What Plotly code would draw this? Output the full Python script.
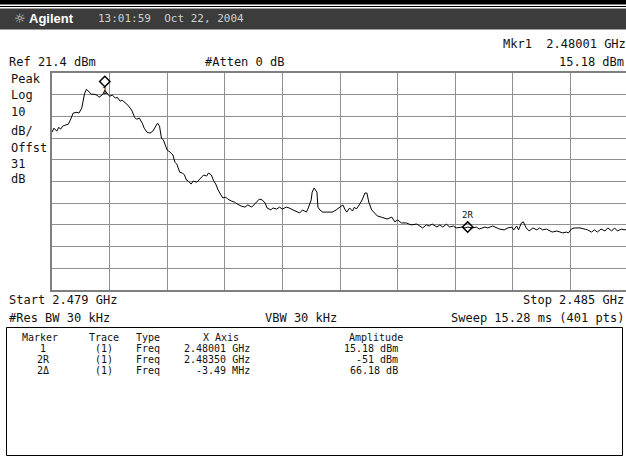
import plotly.graph_objects as go

# ---------------- data ----------------
freq_ghz = [
    2.47900, 2.47902, 2.47905, 2.47907, 2.47909, 2.47911, 2.47914, 2.47917, 2.47920, 2.47922,
    2.47926, 2.47928, 2.47931, 2.47932, 2.47934, 2.47936, 2.47938, 2.47941, 2.47944, 2.47947,
    2.47949, 2.47953, 2.47955, 2.47957, 2.47960, 2.47963, 2.47966, 2.47968, 2.47971, 2.47973,
    2.47977, 2.47979, 2.47983, 2.47986, 2.47988, 2.47991, 2.47994, 2.47996, 2.47999, 2.48002,
    2.48005, 2.48008, 2.48010, 2.48012, 2.48014, 2.48016, 2.48018, 2.48020, 2.48023, 2.48026,
    2.48028, 2.48030, 2.48033, 2.48036, 2.48038, 2.48040, 2.48042, 2.48045, 2.48047, 2.48051,
    2.48053, 2.48056, 2.48058, 2.48061, 2.48063, 2.48066, 2.48068, 2.48071, 2.48073, 2.48076,
    2.48078, 2.48081, 2.48083, 2.48087, 2.48090, 2.48093, 2.48097, 2.48101, 2.48104, 2.48108,
    2.48110, 2.48113, 2.48116, 2.48119, 2.48122, 2.48124, 2.48128, 2.48130, 2.48134, 2.48137,
    2.48140, 2.48144, 2.48147, 2.48151, 2.48155, 2.48158, 2.48161, 2.48165, 2.48167, 2.48170,
    2.48171, 2.48173, 2.48176, 2.48177, 2.48179, 2.48182, 2.48186, 2.48189, 2.48192, 2.48196,
    2.48199, 2.48203, 2.48205, 2.48207, 2.48210, 2.48213, 2.48215, 2.48217, 2.48220, 2.48223,
    2.48226, 2.48228, 2.48230, 2.48233, 2.48236, 2.48239, 2.48243, 2.48246, 2.48249, 2.48254,
    2.48257, 2.48260, 2.48264, 2.48269, 2.48274, 2.48280, 2.48283, 2.48286, 2.48290, 2.48293,
    2.48296, 2.48301, 2.48304, 2.48307, 2.48311, 2.48314, 2.48318, 2.48321, 2.48327, 2.48330,
    2.48333, 2.48338, 2.48342, 2.48345, 2.48351, 2.48354, 2.48359, 2.48363, 2.48366, 2.48371,
    2.48375, 2.48379, 2.48381, 2.48384, 2.48386, 2.48389, 2.48391, 2.48394, 2.48397, 2.48401,
    2.48405, 2.48408, 2.48411, 2.48415, 2.48418, 2.48421, 2.48426, 2.48429, 2.48432, 2.48436,
    2.48438, 2.48441, 2.48444, 2.48450, 2.48455, 2.48458, 2.48462, 2.48465, 2.48468, 2.48472,
    2.48476, 2.48479, 2.48483, 2.48486, 2.48489, 2.48493, 2.48496, 2.48500,
]
amp_dbm = [
    -5.9, -4.0, -5.4, -3.6, -4.5, -3.1, -2.6, -2.2, 0.6, 2.9,
    3.3, 2.9, 5.2, 7.9, 12.1, 13.9, 13.0, 11.6, 11.6, 11.2,
    10.2, 11.6, 13.4, 12.1, 10.7, 11.2, 9.8, 10.2, 8.4, 8.9,
    7.5, 6.6, 4.3, 1.0, 0.1, 0.6, -1.7, -4.0, -5.9, -6.3,
    -5.4, -3.1, -1.7, -3.1, -8.6, -9.5, -11.8, -14.1, -15.1, -16.4,
    -19.7, -20.6, -24.3, -24.7, -25.6, -27.9, -28.4, -29.8, -28.4, -28.9,
    -27.9, -26.6, -25.6, -26.1, -24.7, -25.6, -27.9, -30.2, -32.5, -34.8,
    -36.2, -35.8, -36.7, -37.6, -38.1, -39.0, -39.9, -40.4, -39.4, -40.4,
    -39.4, -38.1, -36.7, -37.1, -38.5, -40.8, -41.7, -40.8, -41.3, -40.4,
    -41.3, -40.4, -40.8, -41.7, -42.7, -43.1, -41.7, -42.7, -40.8, -37.1,
    -33.5, -31.6, -33.5, -40.4, -41.7, -42.7, -42.7, -42.7, -42.7, -41.7,
    -40.8, -39.4, -41.3, -42.7, -40.8, -42.2, -40.4, -41.3, -39.4, -37.1,
    -33.9, -33.9, -38.1, -41.7, -43.1, -44.5, -45.0, -45.4, -45.9, -45.0,
    -47.2, -46.3, -47.7, -47.7, -48.6, -48.2, -49.1, -50.0, -48.6, -49.1,
    -48.2, -49.6, -48.6, -49.6, -48.2, -49.6, -49.1, -50.0, -49.6, -50.0,
    -49.6, -50.0, -49.6, -50.5, -49.6, -50.0, -49.1, -50.0, -50.5, -50.9,
    -50.0, -49.6, -50.9, -49.1, -50.9, -47.7, -47.2, -50.0, -51.4, -50.0,
    -50.9, -50.0, -50.9, -50.5, -51.4, -51.9, -51.4, -51.9, -52.3, -51.9,
    -52.3, -50.5, -50.0, -50.0, -50.5, -50.9, -51.9, -50.9, -51.9, -50.5,
    -51.4, -50.0, -51.4, -50.0, -51.4, -50.5, -50.9, -50.5,
]

ref_level_dbm = 21.4
db_per_div = 10
start_ghz = 2.479
stop_ghz = 2.485

mk1_freq, mk1_amp = 2.47955, 17.5
mk2_freq, mk2_amp = 2.48333, -49.6

tbl_headers = ["Marker", "Trace", "Type", "X Axis", "Amplitude"]
tbl_marker = ["1", "2R", "2\u0394"]
tbl_trace = ["(1)", "(1)", "(1)"]
tbl_type = ["Freq", "Freq", "Freq"]
tbl_xaxis = ["2.48001 GHz", "2.48350 GHz", "-3.49 MHz"]
tbl_amp = ["15.18 dBm", "-51 dBm", "66.18 dB"]

# ---------------- layout helpers (pixel -> paper) ----------------
W, H = 626, 468
L, R, T, B = 52, 0, 73, 178
PW, PH = W - L - R, H - T - B


def px(x):
    return (x - L) / PW


def py(y):
    return (H - B - y) / PH


MONO = "DejaVu Sans Mono"
TXT = "#111111"

fig = go.Figure()
fig.add_trace(go.Scatter(x=freq_ghz, y=amp_dbm, mode="lines",
                         line=dict(color="#000000", width=1), hoverinfo="skip"))
fig.add_trace(go.Scatter(x=[mk1_freq, mk2_freq], y=[mk1_amp, mk2_amp], mode="markers",
                         marker=dict(symbol="diamond-open", size=8, color="#000000",
                                     line=dict(color="#000000", width=1.5)),
                         hoverinfo="skip"))

div_ghz = (stop_ghz - start_ghz) / 10
x_end = start_ghz + div_ghz * PW / 57.6

annotations = []


def txt(x, y, s, size=12, anchor="left", color=TXT, family=MONO, bold=False):
    if bold:
        s = "<b>" + s + "</b>"
    annotations.append(dict(x=px(x), y=py(y), xref="paper", yref="paper", text=s,
                            showarrow=False, xanchor=anchor, yanchor="middle",
                            font=dict(family=family, size=size, color=color)))


# header bar text
txt(12, 18.5, "\u263c", size=13, color="#d8d8d8", family="DejaVu Sans")
txt(27, 18.5, "Agilent", size=13, color="#ffffff", family="Liberation Sans", bold=True)
txt(96, 18.5, "13:01:59  Oct 22, 2004", size=11, color="#d0d0d0")

# top info
txt(7, 62, "Ref 21.4 dBm")
txt(203, 62, "#Atten 0 dB")
txt(628, 44, "Mkr1  2.48001 GHz", anchor="right")
txt(626, 62, "15.18 dBm", anchor="right")

# left labels
for s, y in zip(["Peak", "Log", "10", "dB/", "Offst", "31", "dB"],
                [79, 95, 112, 131, 148, 164, 179]):
    txt(9, y, s)

# bottom info
txt(7, 300, "Start 2.479 GHz")
txt(626, 300, "Stop 2.485 GHz", anchor="right")
txt(7, 318, "#Res BW 30 kHz")
txt(301, 318, "VBW 30 kHz", anchor="center")
txt(626, 318, "Sweep 15.28 ms (401 pts)", anchor="right")

# marker table
hdr_x = [40, 104, 134, 221, 376]
hdr_anchor = ["center", "center", "left", "center", "center"]
for cx, a, h in zip(hdr_x, hdr_anchor, tbl_headers):
    txt(cx, 337, h, size=10, anchor=a)
val_x = [43, 104, 134, 252, 400]
val_anchor = ["center", "center", "left", "right", "right"]
rows_y = [348, 359, 370]
for i, y in enumerate(rows_y):
    vals = [tbl_marker[i], tbl_trace[i], tbl_type[i], tbl_xaxis[i], tbl_amp[i]]
    for cx, a, v in zip(val_x, val_anchor, vals):
        txt(cx, y, v, size=10, anchor=a)

# marker labels
annotations.append(dict(x=mk1_freq, y=mk1_amp, text="1", showarrow=False, yshift=-10,
                        font=dict(family=MONO, size=9, color=TXT)))
annotations.append(dict(x=mk2_freq, y=mk2_amp, text="2R", showarrow=False, yshift=12,
                        font=dict(family=MONO, size=9, color=TXT)))

shapes = [
    dict(type="rect", xref="paper", yref="paper", x0=px(0), x1=px(W), y0=py(0), y1=py(4.5),
         fillcolor="#000000", line=dict(width=0), layer="above"),
    dict(type="rect", xref="paper", yref="paper", x0=px(0), x1=px(W), y0=py(6), y1=py(7),
         fillcolor="#000000", line=dict(width=0), layer="above"),
    dict(type="rect", xref="paper", yref="paper", x0=px(0), x1=px(W), y0=py(8.5), y1=py(29.5),
         fillcolor="#3c3c3c", line=dict(width=0), layer="below"),
    dict(type="rect", xref="paper", yref="paper", x0=px(6.5), x1=px(622.5), y0=py(327.5), y1=py(455.5),
         fillcolor="rgba(0,0,0,0)", line=dict(color="#000000", width=1)),
]

fig.update_layout(
    width=W, height=H,
    margin=dict(l=L, r=R, t=T, b=B, pad=0),
    paper_bgcolor="#ffffff", plot_bgcolor="#ffffff",
    showlegend=False,
    annotations=annotations,
    shapes=shapes,
    xaxis=dict(range=[start_ghz, x_end], tick0=start_ghz, dtick=div_ghz,
               showgrid=True, gridcolor="#8f8f8f", gridwidth=1,
               showticklabels=False, ticks="", zeroline=False,
               showline=True, mirror=True, linecolor="#7f7f7f", linewidth=2),
    yaxis=dict(range=[ref_level_dbm - 10 * db_per_div, ref_level_dbm],
               tick0=ref_level_dbm, dtick=db_per_div,
               showgrid=True, gridcolor="#8f8f8f", gridwidth=1,
               showticklabels=False, ticks="", zeroline=False,
               showline=True, mirror=False, linecolor="#7f7f7f", linewidth=2),
)

fig.write_html("out.html", config={"displayModeBar": False},
               post_script="document.body.style.margin='0';document.body.style.overflow='hidden';")
